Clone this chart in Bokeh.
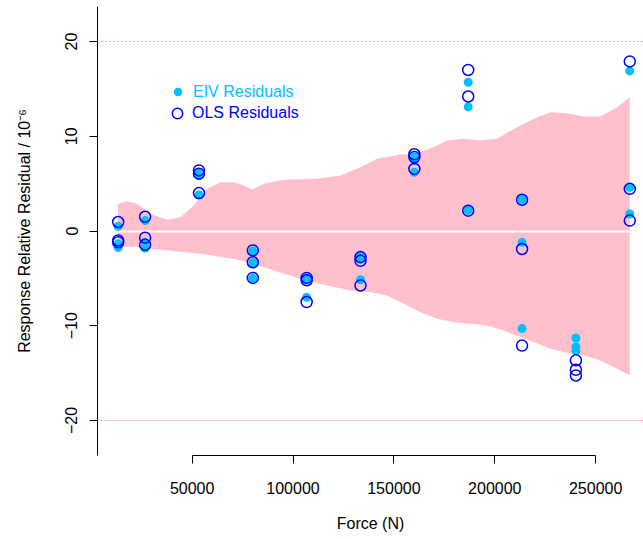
from bokeh.plotting import figure
from bokeh.models import Range1d, FixedTicker, Legend, LegendItem, ColumnDataSource
from bokeh.embed import file_html
from bokeh.resources import INLINE

# Applied force levels (N) and the three replicate residuals at each level (1e-6 relative)
force_levels = [13345, 26689, 53379, 80068, 106757, 133447, 160136, 186825, 213515, 240204, 266893]
eiv_resid = [
    [0.5, -1.35, -1.75],
    [1.1, -1.2, -1.8],
    [6.1, 5.85, 3.8],
    [-2.1, -3.35, -5.0],
    [-4.95, -5.1, -7.0],
    [-2.65, -3.0, -5.15],
    [7.8, 7.45, 6.2],
    [15.7, 13.1, 2.2],
    [3.35, -1.2, -10.3],
    [-11.3, -12.25, -12.65],
    [16.9, 4.6, 1.8],
]
ols_resid = [
    [0.95, -1.0, -1.2],
    [1.5, -0.7, -1.45],
    [6.4, 6.05, 4.0],
    [-2.05, -3.3, -4.95],
    [-4.95, -5.2, -7.5],
    [-2.75, -3.15, -5.75],
    [8.1, 7.8, 6.55],
    [17.0, 14.2, 2.15],
    [3.3, -1.9, -12.1],
    [-13.65, -14.65, -15.25],
    [17.9, 4.45, 1.1],
]

# Uncertainty band: upper and lower limits (kN, 1e-6)
upper_force_kN = [13.3, 17.8, 22.7, 29.3, 37.6, 44.2, 50.8, 57.4, 64.0, 70.6, 75.6, 79.7,
                  85.5, 95.4, 111.9, 123.5, 133.4, 141.7, 153.2, 159.8, 168.1, 176.4, 184.4,
                  192.9, 201.1, 209.4, 219.3, 227.6, 235.8, 244.1, 252.3, 260.6, 266.9]
upper_limit = [2.87, 3.14, 2.87, 1.81, 1.18, 1.46, 2.69, 4.45, 5.15, 5.15, 4.80, 4.38,
               4.98, 5.40, 5.51, 5.85, 6.73, 7.62, 8.07, 8.14, 8.70, 9.55, 9.73,
               9.55, 9.73, 10.78, 11.84, 12.53, 12.43, 12.08, 12.08, 13.06, 14.11]
lower_force_kN = [13.3, 21.1, 29.3, 37.6, 54.1, 70.6, 80.5, 90.4, 103.7, 116.9, 128.4, 138.4,
                  146.6, 154.9, 163.1, 171.4, 179.6, 187.9, 196.2, 204.4, 212.7, 219.3,
                  227.6, 235.8, 244.1, 252.3, 260.6, 266.9]
lower_limit = [-1.71, -1.64, -1.88, -2.06, -2.41, -2.93, -3.46, -4.17, -5.04, -5.75, -6.28, -6.46,
               -6.80, -7.68, -8.57, -9.26, -9.62, -9.79, -9.97, -10.50, -11.20, -11.73,
               -12.43, -12.89, -13.13, -13.66, -14.54, -15.24]

# Tolerance limits and axis ticks
tolerance = [20, -20]
x_ticks = [50000, 100000, 150000, 200000, 250000]
x_tick_labels = ["50000", "100000", "150000", "200000", "250000"]
y_ticks = [-20, -10, 0, 10, 20]
y_tick_labels = ["\u221220", "\u221210", "0", "10", "20"]

FONT = "Liberation Sans"

force = [f for f, reps in zip(force_levels, eiv_resid) for _ in reps]
points = ColumnDataSource(dict(
    force=force,
    eiv=[v for reps in eiv_resid for v in reps],
    ols=[v for reps in ols_resid for v in reps],
))

band_x = [f * 1000 for f in upper_force_kN] + [f * 1000 for f in reversed(lower_force_kN)]
band_y = upper_limit + list(reversed(lower_limit))

p = figure(width=643, height=539,
           x_range=Range1d(3100, 273700), y_range=Range1d(-23.7, 23.7),
           output_backend="svg", toolbar_location=None,
           min_border_left=97, min_border_right=0, min_border_top=6, min_border_bottom=84)
p.xgrid.visible = False
p.ygrid.visible = False
p.outline_line_color = None
p.background_fill_color = "white"
p.border_fill_color = "white"

# band, zero line, tolerance lines
p.patch(band_x, band_y, fill_color="#FFC0CB", line_color=None)
p.hspan(y=[0], line_color="white", line_width=2)
p.hspan(y=tolerance, line_color="#FF3030", line_alpha=0.9, line_width=1, line_dash="1 3")

eiv_r = p.scatter("force", "eiv", source=points, size=9, marker="circle",
                  fill_color="#00BFFF", line_color=None)
ols_r = p.scatter("force", "ols", source=points, size=11, marker="circle",
                  fill_color=None, line_color="#0000FF", line_width=1.5)

# axes
for ax in (p.xaxis[0], p.yaxis[0]):
    ax.axis_line_color = "black"
    ax.major_tick_line_color = "black"
    ax.major_tick_out = 8
    ax.major_tick_in = 0
    ax.minor_tick_line_color = None
    ax.major_label_text_font = FONT
    ax.major_label_text_font_size = "16px"
    ax.major_label_text_color = "black"
    ax.axis_label_text_font = FONT
    ax.axis_label_text_font_size = "16px"
    ax.axis_label_text_font_style = "normal"
    ax.axis_label_text_color = "black"

p.xaxis.ticker = FixedTicker(ticks=x_ticks)
p.xaxis.major_label_overrides = dict(zip(x_ticks, x_tick_labels))
p.xaxis.bounds = (x_ticks[0], x_ticks[-1])
p.xaxis.axis_label = "Force (N)"
p.xaxis.major_label_standoff = 18
p.xaxis.axis_label_standoff = 18

p.yaxis.ticker = FixedTicker(ticks=y_ticks)
p.yaxis.major_label_overrides = dict(zip(y_ticks, y_tick_labels))
p.yaxis.major_label_orientation = "vertical"
p.yaxis.axis_label = "Response Relative Residual / 10\u207b\u2076"
p.yaxis.major_label_standoff = 12
p.yaxis.axis_label_standoff = 30

# two single-entry legends so each label carries its series colour
leg_eiv = Legend(items=[LegendItem(label="EIV Residuals", renderers=[eiv_r])],
                 location=(70, 353), glyph_width=21, glyph_height=21, label_standoff=5,
                 label_text_color="#00BFFF")
leg_ols = Legend(items=[LegendItem(label="OLS Residuals", renderers=[ols_r])],
                 location=(67, 329), glyph_width=26, glyph_height=26, label_standoff=2,
                 label_text_color="#0000FF")
for leg in (leg_eiv, leg_ols):
    leg.padding = 0
    leg.margin = 0
    leg.border_line_color = None
    leg.background_fill_alpha = 0
    leg.label_text_font = FONT
    leg.label_text_font_size = "16px"
    p.add_layout(leg)

open("out.html", "w").write(file_html(p, INLINE))
